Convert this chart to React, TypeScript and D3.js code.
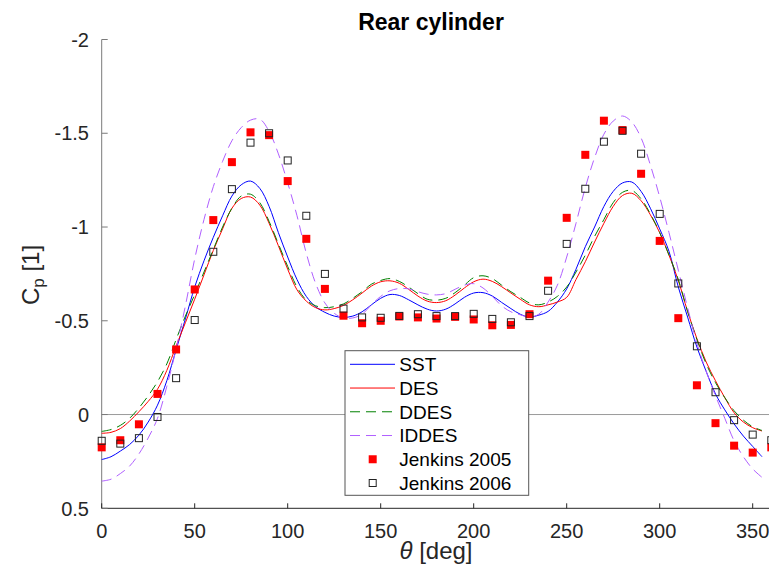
import React from "react";
import * as d3 from "d3";

const thetaCFD = [0,5,10,15,20,25,30,35,40,45,50,55,60,65,70,75,80,85,90,95,100,105,110,115,120,125,130,135,140,145,150,155,160,165,170,175,180,185,190,195,200,205,210,215,220,225,230,235,240,245,250,255,260,265,270,275,280,285,290,295,300,305,310,315,320,325,330,335,340,345,350,355];

const sst = [0.24,0.225,0.195,0.16,0.11,0.04,-0.05,-0.18,-0.345,-0.51,-0.68,-0.82,-0.945,-1.06,-1.165,-1.225,-1.245,-1.206,-1.11,-0.97,-0.84,-0.72,-0.63,-0.575,-0.545,-0.525,-0.518,-0.525,-0.548,-0.585,-0.62,-0.64,-0.635,-0.612,-0.585,-0.562,-0.552,-0.562,-0.59,-0.625,-0.648,-0.65,-0.632,-0.598,-0.565,-0.535,-0.52,-0.53,-0.55,-0.6,-0.67,-0.775,-0.895,-1.0,-1.11,-1.19,-1.235,-1.24,-1.19,-1.1,-0.99,-0.87,-0.68,-0.52,-0.36,-0.23,-0.11,-0.025,0.05,0.115,0.17,0.225];

const des = [0.1,0.095,0.075,0.035,-0.015,-0.07,-0.135,-0.235,-0.365,-0.49,-0.615,-0.745,-0.875,-0.99,-1.1,-1.152,-1.16,-1.117,-1.02,-0.9,-0.775,-0.665,-0.605,-0.57,-0.558,-0.565,-0.582,-0.612,-0.648,-0.685,-0.708,-0.713,-0.7,-0.668,-0.632,-0.605,-0.597,-0.607,-0.637,-0.675,-0.708,-0.722,-0.71,-0.682,-0.648,-0.615,-0.585,-0.575,-0.585,-0.6,-0.625,-0.72,-0.815,-0.92,-1.02,-1.11,-1.168,-1.18,-1.14,-1.065,-0.97,-0.85,-0.715,-0.55,-0.405,-0.28,-0.18,-0.09,-0.01,0.04,0.07,0.088];

const ddes = [0.09,0.08,0.058,0.02,-0.035,-0.1,-0.175,-0.27,-0.4,-0.525,-0.64,-0.76,-0.88,-1.0,-1.1,-1.165,-1.175,-1.13,-1.03,-0.91,-0.79,-0.68,-0.61,-0.58,-0.57,-0.575,-0.59,-0.62,-0.655,-0.695,-0.715,-0.725,-0.71,-0.68,-0.645,-0.615,-0.61,-0.62,-0.65,-0.69,-0.73,-0.74,-0.725,-0.69,-0.655,-0.625,-0.595,-0.585,-0.6,-0.63,-0.68,-0.76,-0.85,-0.95,-1.04,-1.13,-1.185,-1.195,-1.15,-1.07,-0.97,-0.85,-0.72,-0.55,-0.4,-0.27,-0.17,-0.09,-0.02,0.03,0.065,0.085];

const iddes = [0.355,0.345,0.315,0.275,0.21,0.125,0.02,-0.15,-0.35,-0.58,-0.83,-1.04,-1.215,-1.35,-1.46,-1.53,-1.57,-1.575,-1.51,-1.39,-1.235,-1.06,-0.86,-0.7,-0.595,-0.54,-0.515,-0.515,-0.535,-0.585,-0.63,-0.66,-0.672,-0.67,-0.655,-0.642,-0.638,-0.645,-0.668,-0.69,-0.698,-0.675,-0.63,-0.58,-0.548,-0.532,-0.52,-0.535,-0.6,-0.69,-0.84,-1.02,-1.21,-1.37,-1.495,-1.565,-1.592,-1.56,-1.475,-1.33,-1.16,-0.97,-0.77,-0.57,-0.38,-0.23,-0.1,0.02,0.14,0.225,0.29,0.335];

const thetaExp = [0,10,20,30,40,50,60,70,80,90,100,110,120,130,140,150,160,170,180,190,200,210,220,230,240,250,260,270,280,290,300,310,320,330,340,350,360];

const jenkins2005 = [0.175,0.137,0.052,-0.11,-0.347,-0.667,-1.037,-1.346,-1.505,-1.49,-1.245,-0.937,-0.67,-0.527,-0.487,-0.5,-0.523,-0.518,-0.512,-0.521,-0.507,-0.476,-0.478,-0.535,-0.714,-1.049,-1.385,-1.567,-1.517,-1.284,-0.926,-0.514,-0.156,0.046,0.166,0.203,0.175];

const jenkins2006 = [0.14,0.155,0.126,0.013,-0.194,-0.504,-0.868,-1.202,-1.45,-1.5,-1.355,-1.06,-0.75,-0.565,-0.518,-0.516,-0.526,-0.535,-0.525,-0.525,-0.537,-0.51,-0.492,-0.525,-0.66,-0.91,-1.204,-1.455,-1.513,-1.391,-1.07,-0.699,-0.364,-0.119,0.03,0.107,0.137];

const xTicks = [0,50,100,150,200,250,300,350];
const yTicks = [-2,-1.5,-1,-0.5,0,0.5];

const seriesNames = ["SST","DES","DDES","IDDES"];
const expNames = ["Jenkins 2005","Jenkins 2006"];

const W = 769, H = 572;
const FONT = "'Liberation Sans', Arial, Helvetica, sans-serif";

export default function App() {
  const left = 101.7, right = 771.3, top = 39.5, bottom = 508.3;
  const x = d3.scaleLinear().domain([0, 360]).range([left, right]);
  const y = d3.scaleLinear().domain([-2, 0.5]).range([top, bottom]);

  const line = d3.line<number>()
    .x((_, i) => x(thetaCFD[i]))
    .y((d) => y(d))
    .curve(d3.curveCatmullRom.alpha(0.5));

  const series = [
    { name: seriesNames[0], data: sst, color: "#0000ff", dash: undefined },
    { name: seriesNames[1], data: des, color: "#ff0000", dash: undefined },
    { name: seriesNames[2], data: ddes, color: "#008000", dash: "10,6" },
    { name: seriesNames[3], data: iddes, color: "#b060ff", dash: "10,6" },
  ];

  const axisColor = "#262626";
  const legX = 345, legY = 350.7, legW = 183.7, legH = 144.6;
  const rowY = (i: number) => 364.3 + i * 23.74;

  return (
    <svg width={W} height={H} style={{ position: "absolute", left: 0, top: 0, background: "#fff" }} fontFamily={FONT}>
      <rect x={0} y={0} width={W} height={H} fill="#fff" />
      <line x1={left} x2={right} y1={y(0)} y2={y(0)} stroke="#9a9a9a" strokeWidth={1} />
      <line x1={left} x2={left} y1={top} y2={bottom} stroke="#7a7a7a" strokeWidth={1} />
      <line x1={left} x2={right} y1={bottom} y2={bottom} stroke={axisColor} strokeWidth={1} />
      {yTicks.map((t) => (
        <g key={"y" + t}>
          <line x1={left} x2={left + 6} y1={y(t)} y2={y(t)} stroke="#7a7a7a" strokeWidth={1} />
          <text x={89} y={y(t)} dy="0.36em" textAnchor="end" fontSize={20} fill="#262626">{String(t)}</text>
        </g>
      ))}
      {xTicks.map((t) => (
        <g key={"x" + t}>
          <line x1={x(t)} x2={x(t)} y1={bottom} y2={bottom - 5} stroke={axisColor} strokeWidth={1} />
          <text x={x(t)} y={537.5} textAnchor="middle" fontSize={20} fill="#262626">{String(t)}</text>
        </g>
      ))}
      {series.map((s) => (
        <path key={s.name} d={line(s.data) || ""} fill="none" stroke={s.color} strokeWidth={1} strokeDasharray={s.dash} />
      ))}
      {jenkins2005.map((v, i) => (
        <rect key={"a" + i} x={x(thetaExp[i]) - 4} y={y(v) - 4} width={8} height={8} fill="#ff0000" />
      ))}
      {jenkins2006.map((v, i) => (
        <rect key={"b" + i} x={x(thetaExp[i]) - 3.5} y={y(v) - 3.5} width={7} height={7} fill="none" stroke="#222" strokeWidth={1} />
      ))}
      <text x={431} y={30} textAnchor="middle" fontSize={23} fontWeight="bold" fill="#000">Rear cylinder</text>
      <text x={436} y={559} textAnchor="middle" fontSize={24} fill="#262626">
        <tspan fontStyle="italic">θ</tspan> [deg]
      </text>
      <text transform="translate(39,275) rotate(-90)" textAnchor="middle" fontSize={24} fill="#262626">
        C<tspan fontSize={17} dy="5">p</tspan><tspan dy="-5"> [1]</tspan>
      </text>
      <rect x={legX} y={legY} width={legW} height={legH} fill="#fff" stroke="#555" strokeWidth={1} />
      {series.map((s, i) => (
        <g key={"l" + s.name}>
          <line x1={350} x2={395} y1={rowY(i)} y2={rowY(i)} stroke={s.color} strokeWidth={1} strokeDasharray={s.dash} />
          <text x={399.3} y={rowY(i)} dy="0.36em" fontSize={19} fill="#000">{s.name}</text>
        </g>
      ))}
      <rect x={372.7 - 4} y={rowY(4) - 4} width={8} height={8} fill="#ff0000" />
      <text x={399.3} y={rowY(4)} dy="0.36em" fontSize={19} fill="#000">{expNames[0]}</text>
      <rect x={372.7 - 3.5} y={rowY(5) - 3.5} width={7} height={7} fill="none" stroke="#222" strokeWidth={1} />
      <text x={399.3} y={rowY(5)} dy="0.36em" fontSize={19} fill="#000">{expNames[1]}</text>
    </svg>
  );
}
